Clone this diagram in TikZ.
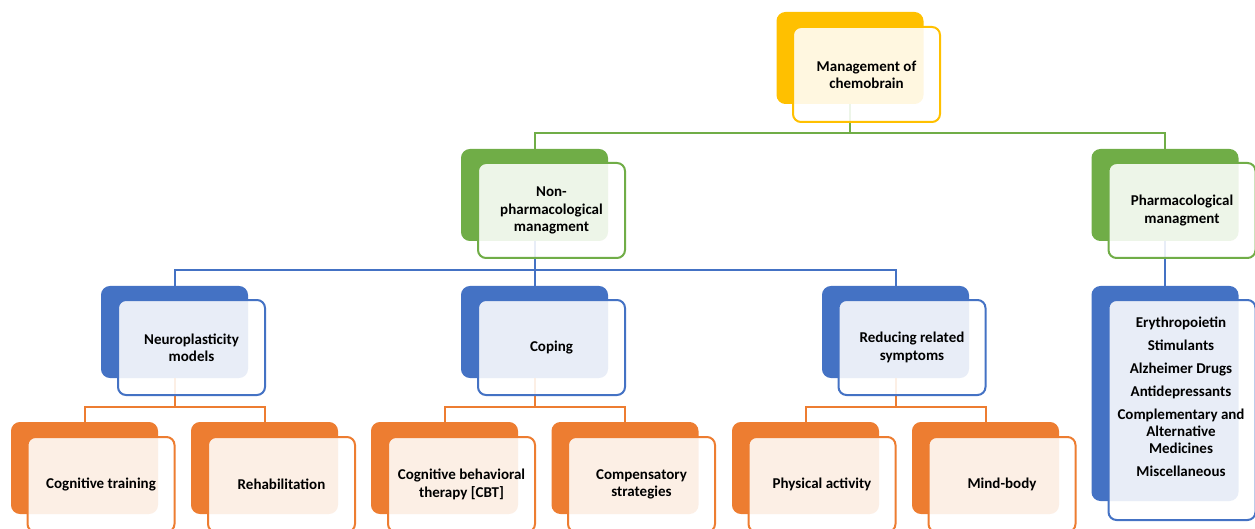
\documentclass[tikz,border=0pt]{standalone}
\usepackage{fontspec}
\setmainfont{Carlito}
\usepackage{xcolor}
\usetikzlibrary{calc}

\definecolor{cyellow}{HTML}{FFC000}
\definecolor{cgreen}{HTML}{70AD47}
\definecolor{cblue}{HTML}{4472C4}
\definecolor{corange}{HTML}{ED7D31}

\tikzset{
  back/.style={draw=#1,fill=#1,line width=2pt,rounded corners=8pt,
    minimum width=145pt,minimum height=90pt,inner sep=0pt},
  front/.style={draw=#1,fill=white,fill opacity=0.88,text opacity=1,
    line width=2pt,rounded corners=8pt,minimum width=147pt,minimum height=95pt,
    inner sep=2pt,align=center,font=\fontsize{15}{17.3}\selectfont\bfseries},
  link/.style={draw=#1,line width=2pt}
}

\begin{document}
\begin{tikzpicture}[x=1pt,y=-1pt]
                \useasboundingbox (0,0) rectangle (1255,529);
                % bus levels
                \coordinate (bus1) at (0,133);
                \coordinate (bus2) at (0,270);
                \coordinate (bus3) at (0,407);
                % back boxes
                \node[back=cyellow] (top-b) at (850,58) {};
                \node[back=cgreen] (nonph-b) at (534.5,195) {};
                \node[back=cgreen] (pharm-b) at (1165,195) {};
                \node[back=cblue] (neuro-b) at (174.5,332) {};
                \node[back=cblue] (coping-b) at (534.5,332) {};
                \node[back=cblue] (reduce-b) at (895.5,332) {};
                \node[back=cblue,minimum height=213pt] (drugs-b) at (1165,393.5) {};
                \node[back=corange] (cogtr-b) at (84.5,468) {};
                \node[back=corange] (rehab-b) at (264.5,468) {};
                \node[back=corange] (cbt-b) at (444.5,468) {};
                \node[back=corange] (comp-b) at (625,468) {};
                \node[back=corange] (phys-b) at (805.5,468) {};
                \node[back=corange] (mind-b) at (985.5,468) {};
                % connectors
                \draw[link=cgreen] (top-b.south) -- (top-b.south |- bus1) -| (nonph-b.north);
                \draw[link=cgreen] (top-b.south |- bus1) -| (pharm-b.north);
                \draw[link=cblue] (nonph-b.south) -- (nonph-b.south |- bus2) -| (neuro-b.north);
                \draw[link=cblue] (nonph-b.south |- bus2) -| (coping-b.north);
                \draw[link=cblue] (nonph-b.south |- bus2) -| (reduce-b.north);
                \draw[link=cblue] (pharm-b.south) -- (drugs-b.north);
                \draw[link=corange] (neuro-b.south) -- (neuro-b.south |- bus3) -| (cogtr-b.north);
                \draw[link=corange] (neuro-b.south |- bus3) -| (rehab-b.north);
                \draw[link=corange] (coping-b.south) -- (coping-b.south |- bus3) -| (cbt-b.north);
                \draw[link=corange] (coping-b.south |- bus3) -| (comp-b.north);
                \draw[link=corange] (reduce-b.south) -- (reduce-b.south |- bus3) -| (phys-b.north);
                \draw[link=corange] (reduce-b.south |- bus3) -| (mind-b.north);
                % front boxes
                \node[front=cyellow] (top) at (866.5,74.5) {Management of\\chemobrain};
                \node[front=cgreen] (nonph) at (551.5,210.5) {Non-\\pharmacological\\managment};
                \node[front=cgreen] (pharm) at (1182,210.5) {Pharmacological\\managment};
                \node[front=cblue] (neuro) at (191.5,347.5) {Neuroplasticity\\models};
                \node[front=cblue] (coping) at (551.5,347.5) {Coping};
                \node[front=cblue] (reduce) at (912,347.5) {Reducing related\\symptoms};
                \node[front=cblue,minimum height=220pt] (drugs) at (1182,410) {};
                \node[align=center,font=\fontsize{15}{17.3}\selectfont\bfseries] (drugs-txt) at (1181,397)
                  {Erythropoietin\\[5.5pt]Stimulants\\[5.5pt]Alzheimer Drugs\\[5.5pt]Antidepressants\\[5.5pt]Complementary and\\Alternative\\Medicines\\[5.5pt]Miscellaneous};
                \node[front=corange] (cogtr) at (101,484.5) {Cognitive training};
                \node[front=corange] (rehab) at (281.5,484.5) {Rehabilitation};
                \node[front=corange] (cbt) at (461.5,484.5) {Cognitive behavioral\\therapy [CBT]};
                \node[front=corange] (comp) at (641.5,484.5) {Compensatory\\strategies};
                \node[front=corange] (phys) at (822,484.5) {Physical activity};
                \node[front=corange] (mind) at (1002,484.5) {Mind-body};
            \end{tikzpicture}
\end{document}
